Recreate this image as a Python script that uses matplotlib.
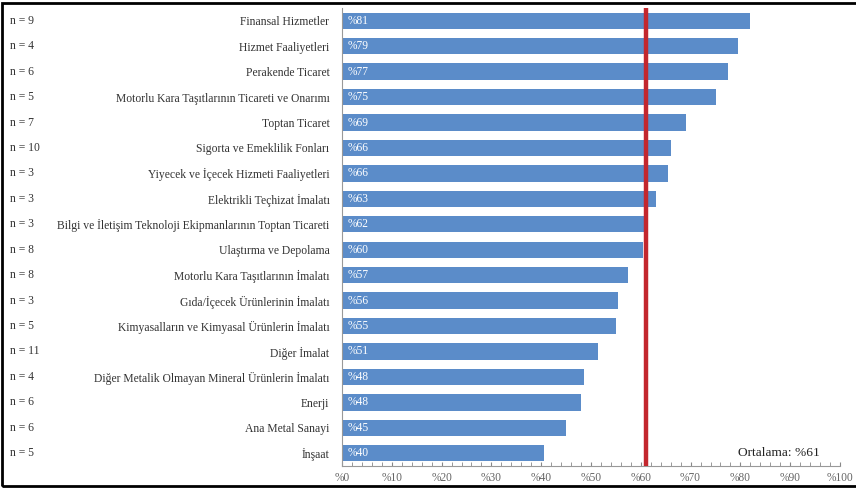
import matplotlib.pyplot as plt
from matplotlib.ticker import MultipleLocator
from matplotlib.patches import Rectangle
from matplotlib.transforms import blended_transform_factory

# Data (top to bottom)
sectors = ['Finansal Hizmetler', 'Hizmet Faaliyetleri', 'Perakende Ticaret',
           'Motorlu Kara Taşıtlarının Ticareti ve Onarımı', 'Toptan Ticaret',
           'Sigorta ve Emeklilik Fonları', 'Yiyecek ve İçecek Hizmeti Faaliyetleri',
           'Elektrikli Teçhizat İmalatı',
           'Bilgi ve İletişim Teknoloji Ekipmanlarının Toptan Ticareti',
           'Ulaştırma ve Depolama', 'Motorlu Kara Taşıtlarının İmalatı',
           'Gıda/İçecek Ürünlerinin İmalatı',
           'Kimyasalların ve Kimyasal Ürünlerin İmalatı', 'Diğer İmalat',
           'Diğer Metalik Olmayan Mineral Ürünlerin İmalatı', 'Enerji',
           'Ana Metal Sanayi', 'İnşaat']
values = [81, 79, 77, 75, 69, 66, 66, 63, 62, 60, 57, 56, 55, 51, 48, 48, 45, 40]
bar_ends = [82, 79.5, 77.5, 75, 69, 66, 65.5, 63, 61.5, 60.5, 57.5, 55.5, 55, 51.5, 48.5, 48, 45, 40.5]
n_counts = [9, 4, 6, 5, 7, 10, 3, 3, 3, 8, 8, 3, 5, 11, 4, 6, 6, 5]
average = 61
xticks = list(range(0, 101, 10))

plt.rcParams['font.family'] = ['Liberation Serif', 'DejaVu Serif']

fig = plt.figure(figsize=(8.56, 4.88), dpi=100)
ax = fig.add_axes([342 / 856, (488 - 466) / 488, (840 - 342) / 856, (466 - 8) / 488])

pos = list(range(len(sectors)))
ax.barh(pos, bar_ends, height=0.64, color='#5b8cc9', zorder=2)
ax.set_ylim(len(sectors) - 0.5, -0.5)
ax.set_xlim(0, 100)

# value labels inside bars
for i, v in enumerate(values):
    ax.text(1.2, i, f'%{v}', color='white', fontsize=8.3, va='center', ha='left', zorder=3)

# category and n labels
ax.set_yticks(pos)
ax.set_yticklabels(sectors, fontsize=8.4, color='#333333')
ax.tick_params(axis='y', length=0, pad=9)
trans = blended_transform_factory(fig.transFigure, ax.transData)
for i, n in enumerate(n_counts):
    ax.text(10 / 856, i, f'n = {n}', transform=trans, fontsize=8.4,
            color='#333333', va='center', ha='left')

# average line
ax.axvline(average, color='#c3272e', lw=3.2, zorder=4)
ax.text(96, 17, f'Ortalama: %{average}', fontsize=9.6, ha='right', va='center', color='#222222')

# x axis
ax.set_xticks(xticks)
ax.set_xticklabels([f'%{t}' for t in xticks], fontsize=8.3, color='#666666')
ax.xaxis.set_minor_locator(MultipleLocator(2))
ax.tick_params(axis='x', which='both', direction='in', color='#888888', length=3, pad=4)

for s in ['top', 'right']:
    ax.spines[s].set_visible(False)
ax.spines['bottom'].set_color('#999999')
ax.spines['left'].set_color('#999999')

# outer frame
fig.patches.append(Rectangle((0.002, 0.004), 1.1, 0.99, transform=fig.transFigure,
                             fill=False, edgecolor='black', lw=2))

fig.savefig('out.png', dpi=100)
